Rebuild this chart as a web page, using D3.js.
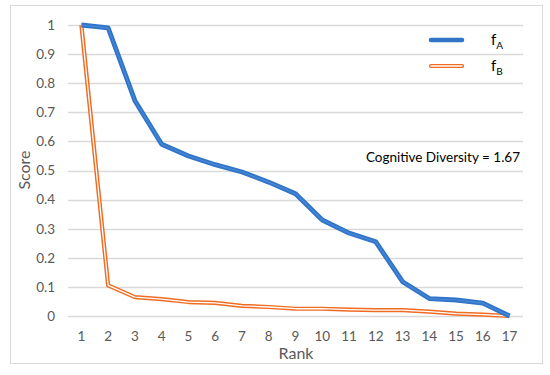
<!DOCTYPE html>
<html>
<head>
<meta charset="utf-8">
<script src="https://cdn.jsdelivr.net/npm/d3@7"></script>
<style>
  body { margin: 0; background: #fff; }
  svg { display: block; font-family: Lato, "Open Sans", sans-serif; }
</style>
</head>
<body>
<div id="chart"></div>
<script>
const ranks = ["1", "2", "3", "4", "5", "6", "7", "8", "9", "10", "11", "12", "13", "14", "15", "16", "17"];
const fA = [1.0, 0.99, 0.74, 0.59, 0.55, 0.52, 0.495, 0.46, 0.42, 0.33, 0.285, 0.255, 0.118, 0.06, 0.055, 0.044, 0.0];
const fB = [1.0, 0.105, 0.065, 0.058, 0.048, 0.045, 0.035, 0.031, 0.025, 0.025, 0.022, 0.02, 0.02, 0.015, 0.008, 0.005, 0.0];
const yTicks = [0, 0.1, 0.2, 0.3, 0.4, 0.5, 0.6, 0.7, 0.8, 0.9, 1];
const annotation = "Cognitive Diversity = 1.67";

const width = 550;
const height = 375;
const plot = { left: 68, right: 523, top: 25, bottom: 316 };

const svg = d3.select("#chart")
  .append("svg")
  .attr("width", width)
  .attr("height", height);

// chart frame
svg.append("rect")
  .attr("x", 10.5)
  .attr("y", 5.5)
  .attr("width", 532)
  .attr("height", 358)
  .attr("fill", "#fff")
  .attr("stroke", "#d9d9d9");

const x = d3.scaleBand().domain(ranks).range([plot.left, plot.right]);
const y = d3.scaleLinear().domain([0, 1]).range([plot.bottom, plot.top]);
const cx = (d) => x(d) + x.bandwidth() / 2;

// gridlines
svg.append("g")
  .selectAll("line")
  .data(yTicks)
  .join("line")
  .attr("x1", plot.left)
  .attr("x2", plot.right)
  .attr("y1", (d) => Math.round(y(d)) + 0.5)
  .attr("y2", (d) => Math.round(y(d)) + 0.5)
  .attr("stroke", "#d9d9d9")
  .attr("stroke-width", 1.3);

const yAxis = svg.append("g")
  .attr("transform", `translate(${plot.left - 6},0)`)
  .call(d3.axisLeft(y).tickValues(yTicks).tickSize(0).tickPadding(7).tickFormat((d) => d3.format("")(+d.toFixed(1))));
yAxis.select(".domain").remove();
yAxis.selectAll("text").attr("fill", "#595959").attr("font-size", 13.5).attr("font-family", "Lato, 'Open Sans', sans-serif");

const xAxis = svg.append("g")
  .attr("transform", `translate(0,${plot.bottom})`)
  .call(d3.axisBottom(x).tickSize(0).tickPadding(15));
xAxis.select(".domain").remove();
xAxis.selectAll("text").attr("fill", "#595959").attr("font-size", 13.5).attr("font-family", "Lato, 'Open Sans', sans-serif");

// axis titles
svg.append("text")
  .attr("x", 296)
  .attr("y", 359)
  .attr("text-anchor", "middle")
  .attr("fill", "#595959")
  .attr("font-size", 16)
  .text("Rank");

svg.append("text")
  .attr("transform", "translate(30,170) rotate(-90)")
  .attr("text-anchor", "middle")
  .attr("fill", "#595959")
  .attr("font-size", 16)
  .text("Score");

const line = d3.line()
  .x((d, i) => cx(ranks[i]))
  .y((d) => y(d));

// fB: double orange line
svg.append("path").datum(fB).attr("d", line)
  .attr("fill", "none").attr("stroke", "#f06b22").attr("stroke-width", 4.2).attr("stroke-linejoin", "round");
svg.append("path").datum(fB).attr("d", line)
  .attr("fill", "none").attr("stroke", "#fff").attr("stroke-width", 1.3).attr("stroke-linejoin", "round");

// fA: thick blue line
svg.append("path").datum(fA).attr("d", line)
  .attr("fill", "none").attr("stroke", "#2f74c8").attr("stroke-width", 4.8).attr("stroke-linejoin", "round");
svg.append("path").datum(fA).attr("d", line)
  .attr("fill", "none").attr("stroke", "#4a8ad6").attr("stroke-width", 1.2).attr("stroke-linejoin", "round");

// legend
const legend = svg.append("g");
legend.append("line").attr("x1", 431).attr("x2", 462).attr("y1", 40).attr("y2", 40)
  .attr("stroke", "#2f74c8").attr("stroke-width", 4.5).attr("stroke-linecap", "round");
legend.append("line").attr("x1", 431).attr("x2", 462).attr("y1", 66).attr("y2", 66)
  .attr("stroke", "#f06b22").attr("stroke-width", 4.2).attr("stroke-linecap", "round");
legend.append("line").attr("x1", 431).attr("x2", 462).attr("y1", 66).attr("y2", 66)
  .attr("stroke", "#fff").attr("stroke-width", 1.3).attr("stroke-linecap", "round");

[["f", "A", 40], ["f", "B", 66]].forEach(([base, sub, ly]) => {
  const t = legend.append("text")
    .attr("x", 491)
    .attr("y", ly + 5)
    .attr("fill", "#000")
    .attr("font-size", 15);
  t.append("tspan").text(base);
  t.append("tspan").attr("font-size", 10).attr("dy", 4).text(sub);
});

svg.append("text")
  .attr("x", 520)
  .attr("y", 162)
  .attr("text-anchor", "end")
  .attr("fill", "#000")
  .attr("font-size", 13.5)
  .text(annotation);
</script>
</body>
</html>
